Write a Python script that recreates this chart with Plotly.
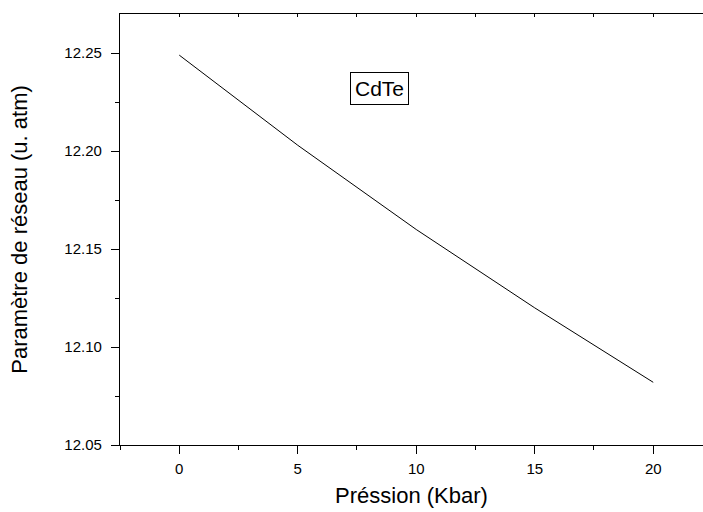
import plotly.graph_objects as go

pression = [0, 5, 10, 15, 20]
parametre = [12.249, 12.203, 12.160, 12.120, 12.082]
label = "CdTe"

fig = go.Figure()
fig.add_trace(go.Scatter(x=pression, y=parametre, mode="lines",
                         line=dict(color="black", width=1), showlegend=False))
fig.add_trace(go.Scatter(x=[pression[0]], y=[parametre[0]], xaxis="x2", mode="lines",
                         line=dict(width=0), showlegend=False, hoverinfo="skip"))

fnt = dict(family="Arial, Liberation Sans, sans-serif", color="black")
fig.update_layout(
    width=703, height=512,
    margin=dict(l=120, r=0, t=14, b=67),
    paper_bgcolor="white", plot_bgcolor="white",
    font=dict(**fnt, size=15),
    xaxis=dict(range=[-2.5, 22.1], tickvals=[0, 5, 10, 15, 20],
               ticks="outside", ticklen=8, tickwidth=1.3, tickcolor="black",
               ticklabelstandoff=2,
               showline=True, linecolor="black", linewidth=1.3,
               showgrid=False, zeroline=False,
               minor=dict(dtick=2.5, tick0=0, ticks="outside", ticklen=4, tickcolor="black", tickwidth=1.3),
               title=dict(text="Préssion (Kbar)", font=dict(size=22), standoff=11),
               tickfont=dict(size=15)),
    xaxis2=dict(range=[-2.5, 22.1], overlaying="x", side="top", dtick=2.5, tick0=0,
                ticks="inside", ticklen=3, tickcolor="black", tickwidth=1.3,
                showline=True, linecolor="black", linewidth=1.3,
                showticklabels=False, showgrid=False, zeroline=False),
    yaxis=dict(range=[12.05, 12.27], tickvals=[12.05, 12.10, 12.15, 12.20, 12.25],
               tickformat=".2f",
               ticks="outside", ticklen=8, tickwidth=1.3, tickcolor="black",
               ticklabelstandoff=6,
               showline=True, linecolor="black", linewidth=1.3,
               showgrid=False, zeroline=False,
               minor=dict(dtick=0.025, tick0=12.05, ticks="outside", ticklen=4, tickcolor="black", tickwidth=1.3),
               title=dict(text="Paramètre de réseau (u. atm)", font=dict(size=22), standoff=30),
               tickfont=dict(size=15)),
    annotations=[dict(x=8.46, y=12.232, xref="x", yref="y", text=label, showarrow=False,
                      font=dict(size=21, color="black"), bordercolor="black", borderwidth=1,
                      borderpad=4, bgcolor="white")],
)

fig.write_html("out.html")
